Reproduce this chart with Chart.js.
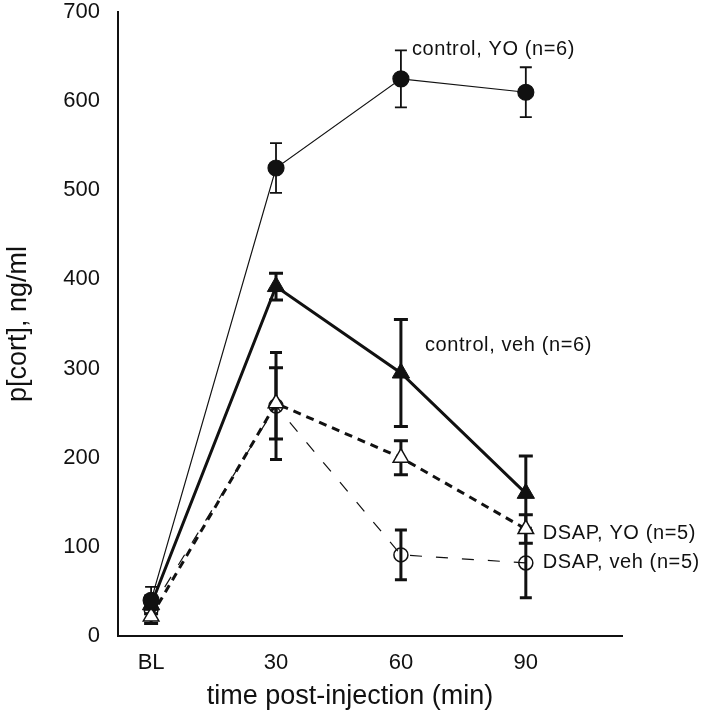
<!DOCTYPE html>
<html>
<head>
<meta charset="utf-8">
<script src="https://cdn.jsdelivr.net/npm/chart.js@4/dist/chart.umd.min.js"></script>
<style>
  html, body { margin: 0; padding: 0; background: #fff; }
  #wrap { width: 703px; height: 719px; }
</style>
</head>
<body>
<div id="wrap"><canvas id="cort"></canvas></div>
<script>
// time points: BL, 30, 60, 90 min (plotted at positions 0..3)
const timeLabels = ['BL', '30', '60', '90'];
const timePos = [0, 1, 2, 3];

const controlYO = [40, 525, 625, 610];
const controlYOErr = [15, 28, 32, 28];

const controlVeh = [35, 392, 295, 160];
const controlVehErr = [10, 15, 60, 42];

const dsapYO = [22, 261, 200, 120];
const dsapYOErr = [8, 40, 19, 16];

const dsapVeh = [30, 258, 91, 82];
const dsapVehErr = [10, 60, 28, 39];

const seriesNames = ['control, YO (n=6)', 'control, veh (n=6)', 'DSAP, YO (n=5)', 'DSAP, veh (n=5)'];
const xTitle = 'time post-injection (min)';

const ink = '#111';
const face = '"Liberation Sans", Arial, sans-serif';

function pts(values) {
    return values.map((v, i) => ({ x: timePos[i], y: v }));
}

// error bars drawn from each dataset's err array through the chart scales
const errorBars = {
    id: 'errorBars',
    beforeDatasetsDraw(chart) {
        const { ctx, scales: { x, y } } = chart;
        chart.data.datasets.forEach(ds => {
            ctx.save();
            ctx.strokeStyle = ink;
            ctx.lineWidth = ds.errWidth;
            ds.data.forEach((p, i) => {
                const e = ds.err[i];
                const px = x.getPixelForValue(p.x);
                const top = y.getPixelForValue(p.y + e);
                const bot = y.getPixelForValue(p.y - e);
                const c = ds.capHalf;
                ctx.beginPath();
                ctx.moveTo(px, top); ctx.lineTo(px, bot);
                ctx.moveTo(px - c, top); ctx.lineTo(px + c, top);
                ctx.moveTo(px - c, bot); ctx.lineTo(px + c, bot);
                ctx.stroke();
            });
            ctx.restore();
        });
    }
};

// series names next to a chosen point of each line, plus the x title
const seriesText = {
    id: 'seriesText',
    afterDatasetsDraw(chart) {
        const { ctx, scales: { x, y } } = chart;
        ctx.save();
        ctx.fillStyle = ink;
        ctx.font = '20px ' + face;
        ctx.letterSpacing = '0.6px';
        ctx.textBaseline = 'middle';
        ctx.textAlign = 'left';
        chart.data.datasets.forEach(ds => {
            const p = ds.data[ds.tag.at];
            ctx.fillText(ds.label, x.getPixelForValue(p.x) + ds.tag.dx, y.getPixelForValue(p.y) + ds.tag.dy);
        });
        // x title sits a little left of the axis centre in the original
        ctx.letterSpacing = '0px';
        ctx.textAlign = 'center';
        ctx.font = '27px ' + face;
        ctx.fillText(xTitle, (x.left + x.right) / 2 - 20, x.bottom - 22);
        ctx.restore();
    }
};

new Chart(document.getElementById('cort'), {
    type: 'line',
    data: {
        datasets: [
            {
                label: seriesNames[0],
                data: pts(controlYO),
                err: controlYOErr,
                errWidth: 1.8, capHalf: 6,
                tag: { at: 2, dx: 11, dy: -29 },
                borderColor: ink, borderWidth: 1.2,
                pointStyle: 'circle', pointRadius: 8,
                pointBackgroundColor: ink, pointBorderColor: ink
            },
            {
                label: seriesNames[1],
                data: pts(controlVeh),
                err: controlVehErr,
                errWidth: 3, capHalf: 7,
                tag: { at: 2, dx: 24, dy: -28 },
                borderColor: ink, borderWidth: 3,
                pointStyle: 'triangle', pointRadius: 10,
                pointBackgroundColor: ink, pointBorderColor: ink, pointBorderWidth: 1
            },
            {
                label: seriesNames[2],
                data: pts(dsapYO),
                err: dsapYOErr,
                errWidth: 3, capHalf: 7,
                tag: { at: 3, dx: 17, dy: 4 },
                borderColor: ink, borderWidth: 3, borderDash: [8, 6],
                pointStyle: 'triangle', pointRadius: 9,
                pointBackgroundColor: '#fff', pointBorderColor: ink, pointBorderWidth: 1.5
            },
            {
                label: seriesNames[3],
                data: pts(dsapVeh),
                err: dsapVehErr,
                errWidth: 3, capHalf: 6,
                tag: { at: 3, dx: 17, dy: 0 },
                borderColor: ink, borderWidth: 1.2, borderDash: [12, 14],
                pointStyle: 'circle', pointRadius: 7,
                pointBackgroundColor: 'rgba(255,255,255,0)', pointBorderColor: ink, pointBorderWidth: 1.5
            }
        ]
    },
    options: {
        responsive: true,
        maintainAspectRatio: false,
        animation: false,
        layout: { padding: { top: 12, right: 81, left: 0, bottom: 0 } },
        plugins: {
            legend: { display: false },
            tooltip: { enabled: false }
        },
        scales: {
            x: {
                type: 'linear',
                min: -0.265,
                max: 3.77,
                afterBuildTicks: scale => { scale.ticks = timePos.map(v => ({ value: v })); },
                afterFit: scale => { scale.height = 83; },
                grid: { display: false, drawTicks: false },
                border: { display: true, color: ink, width: 2 },
                ticks: {
                    color: ink,
                    padding: 14,
                    font: { family: face, size: 22 },
                    callback: v => timeLabels[v]
                }
            },
            y: {
                min: 0,
                max: 700,
                afterFit: scale => {
                    scale.width = 118;
                    scale.paddingTop = 0;
                    scale.paddingBottom = 0;
                },
                grid: { display: false, drawTicks: false },
                border: { display: true, color: ink, width: 2 },
                ticks: {
                    stepSize: 100,
                    color: ink,
                    padding: 18,
                    font: { family: face, size: 22 }
                },
                title: {
                    display: true,
                    text: 'p[cort], ng/ml',
                    color: ink,
                    padding: { top: 2, bottom: 0 },
                    font: { family: face, size: 27 }
                }
            }
        }
    },
    plugins: [errorBars, seriesText]
});
</script>
</body>
</html>
